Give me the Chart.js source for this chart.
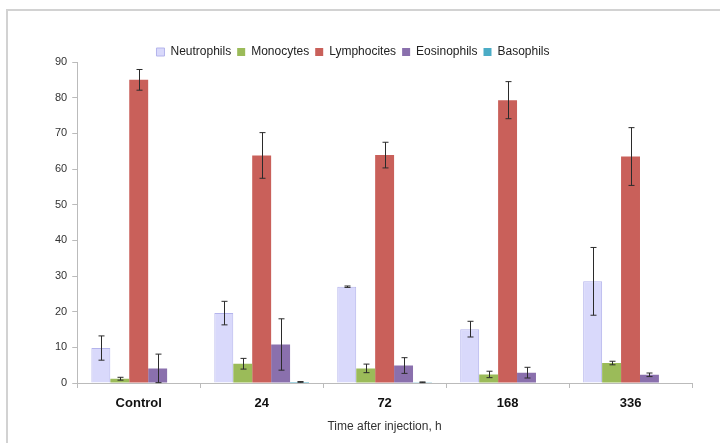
<!DOCTYPE html>
<html>
<head>
<meta charset="utf-8">
<script src="https://cdn.jsdelivr.net/npm/chart.js@4"></script>
<style>
  html, body { margin: 0; padding: 0; background: #fff; }
  #wrap { position: relative; width: 720px; height: 443px; }
  #frame { position: absolute; left: 6px; top: 9px; width: 714px; height: 434px;
           border-left: 2px solid #d2d2d2; border-top: 2px solid #d2d2d2; box-sizing: border-box; }
  canvas { position: absolute; left: 0; top: 0; }
</style>
</head>
<body>
<div id="wrap">
  <div id="frame"></div>
  <canvas id="myChart" width="720" height="443"></canvas>
</div>
<script>
'use strict';

// categories (time after injection)
var timeLabels = ['Control', '24', '72', '168', '336'];

// mean values, %
var neutrophils = [9.8, 19.6, 27.0, 15.1, 28.5];
var monocytes = [1.2, 5.4, 4.1, 2.4, 5.6];
var lymphocites = [85.0, 63.8, 63.9, 79.3, 63.5];
var eosinophils = [4.1, 10.8, 4.9, 2.9, 2.3];
var basophils = [0, 0.3, 0.2, 0, 0];

// error bars (+/-)
var neutrophilsErr = [3.4, 3.3, 0.2, 2.2, 9.5];
var monocytesErr = [0.4, 1.5, 1.2, 0.9, 0.5];
var lymphocitesErr = [2.9, 6.4, 3.6, 5.2, 8.1];
var eosinophilsErr = [4.0, 7.2, 2.2, 1.5, 0.5];
var basophilsErr = [0, 0.1, 0.1, 0, 0];

var yTicks = [0, 10, 20, 30, 40, 50, 60, 70, 80, 90];

Chart.defaults.font.family = '"Liberation Sans", Arial, sans-serif';

// draws the +/- error bars on top of every bar
var errorBars = {
  id: 'errorBars',
  afterDatasetsDraw: function(chart) {
    var ctx = chart.ctx;
    var yScale = chart.scales.y;
    ctx.save();
    ctx.strokeStyle = '#2b2b2b';
    ctx.lineWidth = 1;
    chart.data.datasets.forEach(function(ds, i) {
      var meta = chart.getDatasetMeta(i);
      meta.data.forEach(function(bar, j) {
        var err = ds.errors[j];
        if (!err) return;
        var v = ds.data[j];
        var x = Math.round(bar.x) + 0.5;
        var yTop = yScale.getPixelForValue(v + err);
        var yBot = yScale.getPixelForValue(Math.max(0, v - err));
        ctx.beginPath();
        ctx.moveTo(x, yTop);
        ctx.lineTo(x, yBot);
        ctx.moveTo(x - 3, yTop);
        ctx.lineTo(x + 3, yTop);
        ctx.moveTo(x - 3, yBot);
        ctx.lineTo(x + 3, yBot);
        ctx.stroke();
      });
    });
    ctx.restore();
  }
};

// pull the plot a little closer to the legend, and centre legend on the page
var tightLegend = {
  id: 'tightLegend',
  afterInit: function(chart) {
    var legend = chart.legend;
    var origFit = legend.fit;
    legend.fit = function() {
      origFit.call(this);
      this.height -= 6;
    };
  },
  afterLayout: function(chart) {
    chart.legend.left -= 18;
    chart.legend.right -= 18;
  }
};

var ctx = document.getElementById('myChart').getContext('2d');

var myChart = new Chart(ctx, {
  type: 'bar',
  data: {
    labels: timeLabels,
    datasets: [{
      label: 'Neutrophils',
      data: neutrophils,
      errors: neutrophilsErr,
      backgroundColor: '#d9d9fb',
      borderColor: '#b4b4ec',
      borderWidth: 1
    }, {
      label: 'Monocytes',
      data: monocytes,
      errors: monocytesErr,
      backgroundColor: '#9bbb59',
      borderColor: '#9bbb59',
      borderWidth: 0
    }, {
      label: 'Lymphocites',
      data: lymphocites,
      errors: lymphocitesErr,
      backgroundColor: '#c9605a',
      borderColor: '#c9605a',
      borderWidth: 0
    }, {
      label: 'Eosinophils',
      data: eosinophils,
      errors: eosinophilsErr,
      backgroundColor: '#8a70ad',
      borderColor: '#8a70ad',
      borderWidth: 0
    }, {
      label: 'Basophils',
      data: basophils,
      errors: basophilsErr,
      backgroundColor: '#4bacc6',
      borderColor: '#4bacc6',
      borderWidth: 0
    }]
  },
  options: {
    responsive: false,
    animation: false,
    layout: { padding: { left: 50, right: 28, top: 40, bottom: 5 } },
    datasets: {
      bar: { barPercentage: 1.0, categoryPercentage: 0.77 }
    },
    plugins: {
      legend: {
        position: 'top',
        labels: {
          boxWidth: 8,
          boxHeight: 8,
          padding: 6,
          color: '#222',
          font: { size: 12 }
        }
      },
      tooltip: { enabled: false }
    },
    scales: {
      x: {
        grid: { display: true, offset: true, drawOnChartArea: false, tickLength: 5, color: '#bbbbbb' },
        border: { color: '#bbbbbb' },
        ticks: { color: '#111', font: { size: 13, weight: 'bold' }, padding: 8 },
        title: { display: true, text: 'Time after injection, h', color: '#333', font: { size: 12 }, padding: { top: 0 } }
      },
      y: {
        min: 0,
        max: 90,
        afterBuildTicks: function(scale) {
          scale.ticks = yTicks.map(function(v) { return { value: v }; });
        },
        grid: { display: true, drawOnChartArea: false, tickLength: 5, color: '#bbbbbb' },
        border: { color: '#bbbbbb' },
        ticks: { color: '#333', font: { size: 11 }, padding: 5 }
      }
    }
  },
  plugins: [errorBars, tightLegend]
});
</script>
</body>
</html>
